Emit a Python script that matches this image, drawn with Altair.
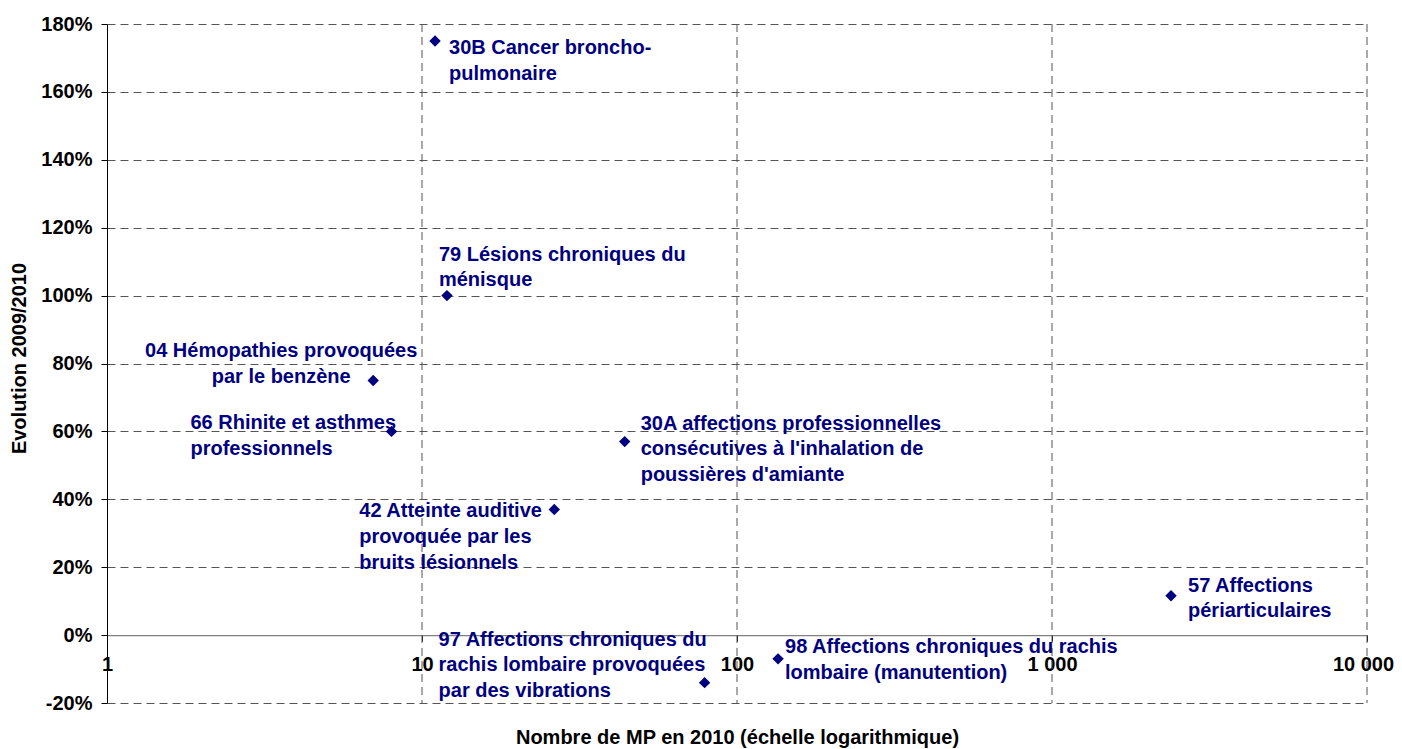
import altair as alt
import pandas as pd

# ---- data ----
codes = ["30B", "79", "04", "66", "30A", "42", "57", "97", "98"]
counts_2010 = [11.0, 12.0, 7.0, 8.0, 44.0, 26.3, 2387, 78.9, 135]
evolution = [1.75, 1.00, 0.75, 0.60, 0.57, 0.37, 0.116, -0.14, -0.07]
labels = [
    "30B  Cancer broncho-\npulmonaire",
    "79 Lésions chroniques du\nménisque",
    "04 Hémopathies provoquées\npar le benzène",
    "66 Rhinite et asthmes\nprofessionnels",
    "30A affections professionnelles\nconsécutives à l'inhalation de\npoussières d'amiante",
    "42  Atteinte auditive\nprovoquée par les\nbruits lésionnels",
    "57 Affections\npériarticulaires",
    "97 Affections chroniques du\nrachis lombaire provoquées\npar des vibrations",
    "98 Affections chroniques du rachis\nlombaire (manutention)",
]
x_ticks = [1, 10, 100, 1000, 10000]
y_ticks = [-0.2, 0.0, 0.2, 0.4, 0.6, 0.8, 1.0, 1.2, 1.4, 1.6, 1.8]
x_title = "Nombre de MP en 2010 (échelle logarithmique)"
y_title = "Evolution 2009/2010"

df = pd.DataFrame({"code": codes, "n": counts_2010, "evo": evolution, "label": labels})
grid_df = pd.DataFrame({"n": x_ticks[1:]})

# ---- layout / style ----
W, H = 1260, 679
FONT = "Liberation Sans"
NAVY = "#000080"
GRID = "#555555"
y_dom = [-0.2, 1.8]
zero_offset = -H * (0 - y_dom[0]) / (y_dom[1] - y_dom[0])

x_scale = alt.Scale(type="log", domain=[1, 10000], nice=False)
y_scale = alt.Scale(domain=y_dom, nice=False, zero=False)

x_axis = alt.Axis(
    values=x_ticks, grid=False, offset=zero_offset,
    domainColor="#808080", domainWidth=1.2, tickColor="#000000", tickSize=6,
    labelExpr="replace(format(datum.value, ','), ',', ' ')",
    labelFont=FONT, labelFontSize=20, labelFontWeight="bold", labelColor="#000000",
    labelBaseline="middle", labelPadding=23, labelFlush=False, labelOverlap=False,
    labelBound=False,
    labelOffset={"condition": {"test": "datum.value >= 10000", "value": -4}, "value": 0},
    title=x_title, titleFont=FONT, titleFontSize=20, titleFontWeight="bold",
    titleColor="#000000", titleX=W / 2, titleY=102, titleBaseline="middle",
    titleAlign="center",
)
y_axis = alt.Axis(
    values=y_ticks, grid=True, gridColor=GRID, gridDash=[8, 5], gridWidth=1,
    domainColor="#000000", domainWidth=1, tickColor="#000000", tickSize=6,
    labelExpr="replace(format(datum.value, '.0%'), '\u2212', '-')",
    labelFont=FONT, labelFontSize=20, labelFontWeight="bold", labelColor="#000000",
    labelPadding=9, labelFlush=False, labelOverlap=False, labelBound=False,
    title=y_title, titleFont=FONT, titleFontSize=20, titleFontWeight="bold",
    titleColor="#000000", titleX=-88, titleY=334, titleAngle=-90,
    titleAlign="center", titleBaseline="middle",
)

x_enc = alt.X("n:Q", scale=x_scale, axis=x_axis)
y_enc = alt.Y("evo:Q", scale=y_scale, axis=y_axis)

vgrid = alt.Chart(grid_df).mark_rule(
    color=GRID, strokeDash=[8, 5], strokeWidth=1
).encode(x=x_enc)

points = alt.Chart(df).mark_point(
    shape="diamond", filled=True, size=130, color=NAVY, opacity=1
).encode(x=x_enc, y=y_enc)

# label placement (pixel offsets from each point)
placement = {
    "30B": dict(dx=14, dy=13, align="left"),
    "79": dict(dx=-8, dy=-35, align="left"),
    "04": dict(dx=-92, dy=-23, align="center"),
    "66": dict(dx=-201, dy=-2, align="left"),
    "30A": dict(dx=16, dy=-12, align="left"),
    "42": dict(dx=-195, dy=8, align="left"),
    "57": dict(dx=17, dy=-4, align="left"),
    "97": dict(dx=-266, dy=-37, align="left"),
    "98": dict(dx=7, dy=-6, align="left"),
}

text_layers = []
for c in codes:
    p = placement[c]
    text_layers.append(
        alt.Chart(df).transform_filter(alt.datum.code == c).mark_text(
            font=FONT, fontSize=20, fontWeight="bold", color=NAVY,
            lineBreak="\n", lineHeight=25.7, baseline="alphabetic",
            align=p["align"], dx=p["dx"], dy=p["dy"],
        ).encode(x=x_enc, y=y_enc, text="label:N")
    )

chart = alt.layer(vgrid, points, *text_layers).properties(
    width=W, height=H,
    padding={"left": 99, "top": 16, "right": 27, "bottom": 46},
    autosize=alt.AutoSizeParams(type="none"),
    background="white",
).configure_view(stroke=None)

chart.save("out.html", embed_options={"renderer": "svg", "actions": False})
